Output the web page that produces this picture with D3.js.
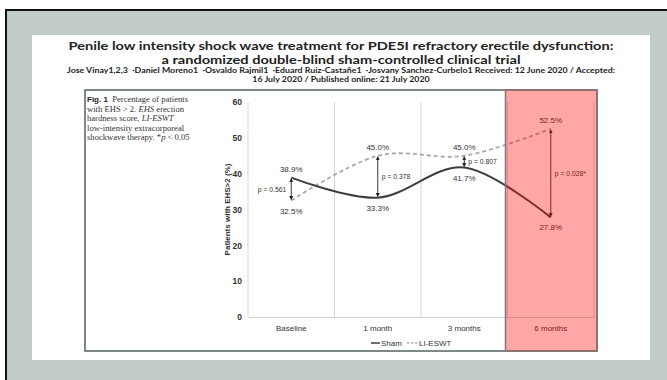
<!DOCTYPE html>
<html>
<head>
<meta charset="utf-8">
<script src="https://cdn.jsdelivr.net/npm/d3@7"></script>
<style>
  html, body { margin: 0; padding: 0; background: #fff; }
  svg { display: block; }
</style>
</head>
<body>
<div id="chart"></div>
<script>
const months = ["Baseline", "1 month", "3 months", "6 months"];
const shamValues = [38.9, 33.3, 41.7, 27.8];
const eswtValues = [32.5, 45.0, 45.0, 52.5];
const pLabels = ["p = 0.561", "p = 0.378", "p = 0.807", "p = 0.028*"];
const yTicks = [0, 10, 20, 30, 40, 50, 60];
const highlightMonth = "6 months";

const titleLines = [
  "Penile low intensity shock wave treatment for PDE5I refractory erectile dysfunction:",
  "a randomized double-blind sham-controlled clinical trial",
];
const authorLines = [
  "Jose Vinay1,2,3  ·Daniel Moreno1  ·Osvaldo Rajmil1  ·Eduard Ruiz-Castañe1  ·Josvany Sanchez-Curbelo1 Received: 12 June 2020 / Accepted:",
  "16 July 2020 / Published online: 21 July 2020",
];

const W = 667, H = 380;
const sans = "'Liberation Sans', Arial, sans-serif";
const svg = d3.select("#chart").append("svg").attr("width", W).attr("height", H);

// slide frame
svg.append("rect").attr("x", 6).attr("y", 10).attr("width", 680).attr("height", 400)
  .attr("fill", "#c2cccb").attr("stroke", "#111").attr("stroke-width", 2);
svg.append("rect").attr("x", 32).attr("y", 35).attr("width", 618).attr("height", 325).attr("fill", "#fff");

// header text, squeezed to the widths seen in the slide
const cx = 341;
function fit(sel, w) {
  const n = sel.node().getComputedTextLength();
  sel.attr("textLength", w).attr("lengthAdjust", "spacingAndGlyphs");
  return w / n;
}
const t1 = svg.append("text").attr("x", cx).attr("y", 50).attr("text-anchor", "middle")
  .attr("font-family", "Lato, sans-serif").attr("font-weight", "bold").attr("font-size", 11.5).attr("fill", "#222")
  .text(titleLines[0]);
const r1 = fit(t1, 545);
const t2 = svg.append("text").attr("x", cx).attr("y", 64).attr("text-anchor", "middle")
  .attr("font-family", "Lato, sans-serif").attr("font-weight", "bold").attr("font-size", 11.5).attr("fill", "#222")
  .text(titleLines[1]);
fit(t2, t2.node().getComputedTextLength() * r1);
const a1 = svg.append("text").attr("x", cx).attr("y", 73).attr("text-anchor", "middle")
  .attr("font-family", "Lato, sans-serif").attr("font-weight", "bold").attr("font-size", 7).attr("fill", "#222")
  .attr("xml:space", "preserve").text(authorLines[0]);
const ra = fit(a1, 548);
const a2 = svg.append("text").attr("x", cx).attr("y", 82).attr("text-anchor", "middle")
  .attr("font-family", "Lato, sans-serif").attr("font-weight", "bold").attr("font-size", 7).attr("fill", "#222")
  .text(authorLines[1]);
fit(a2, a2.node().getComputedTextLength() * ra);

// figure box
const fig = { x0: 85, y0: 90, x1: 597, y1: 351 };
svg.append("rect").attr("x", fig.x0).attr("y", fig.y0).attr("width", fig.x1 - fig.x0).attr("height", fig.y1 - fig.y0)
  .attr("fill", "#fff").attr("stroke", "#56625f").attr("stroke-width", 1.5);

// caption
const cap = svg.append("g").attr("font-family", "'Liberation Serif', 'Times New Roman', serif")
  .attr("font-size", 8.6).attr("fill", "#333");
const capLines = [
  [["Fig. 1", "b"], ["  Percentage of patients", ""]],
  [["with EHS > 2. ", ""], ["EHS", "i"], [" erection", ""]],
  [["hardness score, ", ""], ["LI-ESWT", "i"]],
  [["low-intensity extracorporeal", ""]],
  [["shockwave therapy. *", ""], ["p", "i"], [" < 0.05", ""]],
];
capLines.forEach((parts, i) => {
  const t = cap.append("text").attr("x", 87).attr("y", 102 + i * 9.6).attr("xml:space", "preserve");
  parts.forEach(([s, st]) => {
    const sp = t.append("tspan").text(s);
    if (st === "b") sp.attr("font-family", sans).attr("font-weight", "bold").attr("font-size", 8).attr("fill", "#222");
    if (st === "i") sp.attr("font-style", "italic");
  });
});

// chart
const x = d3.scaleBand().domain(months).range([248, 594]);
const y = d3.scaleLinear().domain([0, 60]).range([317, 102]);
const bw = x.bandwidth();
const px = (m) => x(m) + bw / 2;

const plot = svg.append("g").attr("font-family", sans).attr("fill", "#222");

plot.selectAll(".vgrid").data([...months, "end"]).join("line")
  .attr("x1", (d) => d === "end" ? x.range()[1] : x(d))
  .attr("x2", (d) => d === "end" ? x.range()[1] : x(d))
  .attr("y1", y(60)).attr("y2", y(0))
  .attr("stroke", "#d6d6d6").attr("stroke-width", 1);

const yAxis = plot.append("g").attr("transform", `translate(${x.range()[0]},0)`)
  .call(d3.axisLeft(y).tickValues(yTicks).tickSize(0).tickPadding(6));
yAxis.select(".domain").remove();
yAxis.selectAll("text").attr("font-size", 8.5).attr("font-family", sans).attr("font-weight", "bold").attr("fill", "#333");

const xAxis = plot.append("g").attr("transform", `translate(0,${y(0)})`)
  .call(d3.axisBottom(x).tickSize(0).tickPadding(8));
xAxis.select(".domain").attr("stroke", "#d0d0d0");
xAxis.selectAll("text").attr("font-size", 8).attr("font-family", sans).attr("fill", "#333");

plot.append("text")
  .attr("transform", `translate(230,${y(30)}) rotate(-90)`)
  .attr("text-anchor", "middle").attr("font-size", 8).attr("font-weight", "bold").attr("fill", "#333")
  .text("Patients with EHS>2 (%)");

const line = d3.line().x((d, i) => px(months[i])).y((d) => y(d)).curve(d3.curveCardinal.tension(0));

plot.append("path").datum(eswtValues).attr("d", line).attr("fill", "none")
  .attr("stroke", "#a9a9a9").attr("stroke-width", 1.8).attr("stroke-dasharray", "4,3");
plot.append("path").datum(shamValues).attr("d", line).attr("fill", "none")
  .attr("stroke", "#3f3f3f").attr("stroke-width", 2);

// double arrows between the two groups
const defs = svg.append("defs");
defs.append("marker").attr("id", "ah").attr("viewBox", "0 0 10 10").attr("refX", 9).attr("refY", 5)
  .attr("markerWidth", 4).attr("markerHeight", 4).attr("markerUnits", "userSpaceOnUse").attr("orient", "auto-start-reverse")
  .append("path").attr("d", "M0,0L10,5L0,10z").attr("fill", "#222");

const rows = months.map((m, i) => ({ m, i, sham: shamValues[i], eswt: eswtValues[i], p: pLabels[i] }));

plot.selectAll(".arrow").data(rows).join("line")
  .attr("x1", (d) => px(d.m)).attr("x2", (d) => px(d.m))
  .attr("y1", (d) => y(Math.max(d.sham, d.eswt)) + 1)
  .attr("y2", (d) => y(Math.min(d.sham, d.eswt)) - 1)
  .attr("stroke", "#222").attr("stroke-width", 0.9)
  .attr("marker-start", "url(#ah)").attr("marker-end", "url(#ah)");

const lab = plot.append("g").attr("font-size", 8).attr("fill", "#333").attr("text-anchor", "middle");
rows.forEach((d) => {
  const hi = Math.max(d.sham, d.eswt), lo = Math.min(d.sham, d.eswt);
  lab.append("text").attr("x", px(d.m)).attr("y", y(hi) - 6).text(d3.format(".1f")(hi) + "%");
  lab.append("text").attr("x", px(d.m)).attr("y", y(lo) + 13).text(d3.format(".1f")(lo) + "%");
  const left = d.i === 0;
  lab.append("text")
    .attr("x", px(d.m) + (left ? -5 : 4))
    .attr("y", (y(hi) + y(lo)) / 2 + 2.5)
    .attr("text-anchor", left ? "end" : "start")
    .attr("font-size", 6.8)
    .text(d.p);
});

// legend
const lg = plot.append("g").attr("transform", `translate(${(x.range()[0] + x.range()[1]) / 2 - 50},343)`)
  .attr("font-size", 8).attr("fill", "#333");
lg.append("line").attr("x1", 0).attr("x2", 9).attr("y1", 0).attr("y2", 0).attr("stroke", "#3f3f3f").attr("stroke-width", 1.5);
lg.append("text").attr("x", 10).attr("y", 3).text("Sham");
lg.append("line").attr("x1", 36).attr("x2", 47).attr("y1", 0).attr("y2", 0).attr("stroke", "#888").attr("stroke-width", 1.2).attr("stroke-dasharray", "2.5,1.5");
lg.append("text").attr("x", 48).attr("y", 3).text("LI-ESWT");

// red highlight over the 6 month band
const hx0 = x(highlightMonth) - 2, hx1 = x.range()[1] + 3;
svg.append("rect").attr("x", hx0).attr("y", fig.y0).attr("width", hx1 - hx0).attr("height", fig.y1 - fig.y0)
  .attr("fill", "#ff0000").attr("fill-opacity", 0.35);
svg.append("rect").attr("x", hx0).attr("y", fig.y0).attr("width", hx1 - hx0).attr("height", fig.y1 - fig.y0)
  .attr("fill", "none").attr("stroke", "#8c7272").attr("stroke-width", 1.5);
</script>
</body>
</html>
